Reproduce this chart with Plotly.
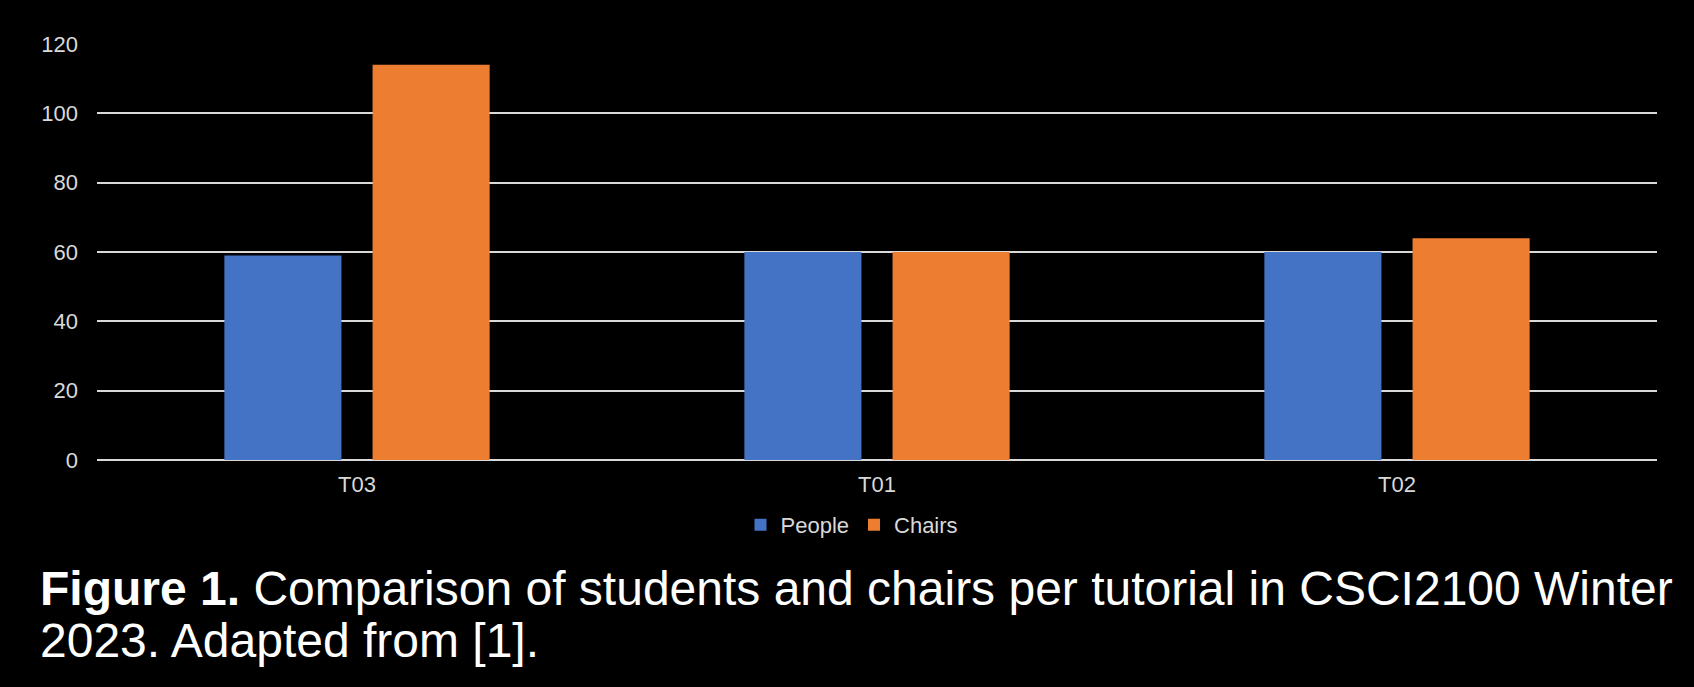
import plotly.graph_objects as go

# data
tutorials = ["T03", "T01", "T02"]
people = [59, 60, 60]
chairs = [114, 60, 64]
y_ticks = [0, 20, 40, 60, 80, 100, 120]
caption_lines = [
    "<b>Figure 1.</b> Comparison of students and chairs per tutorial in CSCI2100 Winter",
    "2023. Adapted from [1].",
]

W, H = 1694, 687
ML, MR, MT, MB = 97, 37, 44, 227
plot_w = W - ML - MR
plot_h = H - MT - MB


def px_to_paper_x(px):
    return (px - ML) / plot_w


def px_to_paper_y(py):
    return (H - MB - py) / plot_h


FONT = "Liberation Sans, Arial, sans-serif"
GRID = "#d9d9d9"

fig = go.Figure()
fig.add_trace(go.Bar(x=tutorials, y=people, name="People",
                     marker=dict(color="#4472C4", line_width=0)))
fig.add_trace(go.Bar(x=tutorials, y=chairs, name="Chairs",
                     marker=dict(color="#ED7D31", line_width=0)))

for i, line in enumerate(caption_lines):
    fig.add_annotation(
        text=line,
        xref="paper",
        yref="paper",
        x=px_to_paper_x(38),
        y=px_to_paper_y(588 + 52 * i),
        xanchor="left",
        yanchor="middle",
        showarrow=False,
        font=dict(family=FONT, size=48, color="#ffffff"),
    )

fig.update_layout(
    width=W,
    height=H,
    margin=dict(l=ML, r=MR, t=MT, b=MB, autoexpand=False),
    paper_bgcolor="#000000",
    plot_bgcolor="#000000",
    font=dict(family=FONT, size=22, color="#d9d9d9"),
    barmode="group",
    bargap=0.43,
    bargroupgap=0.21,
    showlegend=True,
    legend=dict(
        orientation="h",
        x=px_to_paper_x(852),
        y=px_to_paper_y(525),
        xanchor="center",
        yanchor="middle",
        font=dict(size=22, color="#d9d9d9"),
        bgcolor="rgba(0,0,0,0)",
        itemwidth=30,
    ),
    xaxis=dict(
        showgrid=False,
        showline=False,
        ticks="",
        ticklabelstandoff=9,
    ),
    yaxis=dict(
        range=[0, 120],
        tickvals=y_ticks,
        showgrid=True,
        gridcolor=GRID,
        gridwidth=1.5,
        zeroline=True,
        zerolinecolor=GRID,
        zerolinewidth=1.5,
        showline=False,
        ticks="",
        ticklabelstandoff=18,
    ),
)

# drop the default page margin so the black figure fills the window
fig.write_html(
    "out.html",
    config={"displayModeBar": False},
    post_script="document.body.style.margin='0';document.body.style.background='#000';",
)
